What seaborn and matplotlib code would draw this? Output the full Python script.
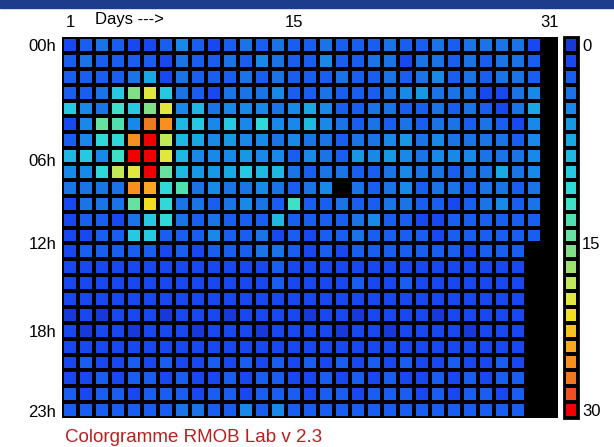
# import libraries
import numpy as np
import pandas as pd
import matplotlib
matplotlib.use('Agg')
import matplotlib.pyplot as plt
import seaborn as sns
from matplotlib.colors import ListedColormap
from matplotlib.patches import Rectangle

nan = np.nan

# days of the month and hours of the day
days = list(range(1, 32))
hours = ['%02dh' % h for h in range(24)]

# meteor counts per hour (rows) and day (columns), nan = no data
h00 = [2, 3, 4, 3, 2, 2, 3, 5, 3, 2, 3, 4, 3, 4, 3, 3, 4, 3, 3, 3, 4, 3, 3, 4, 3, 4, 4, 4, 4, 2, nan]
h01 = [3, 4, 3, 3, 3, 3, 2, 4, 3, 3, 4, 3, 6, 4, 3, 3, 5, 3, 3, 4, 4, 2, 4, 4, 3, 4, 3, 4, 4, 3, nan]
h02 = [3, 3, 3, 3, 4, 8, 2, 4, 3, 3, 3, 4, 3, 4, 3, 3, 3, 4, 3, 3, 4, 3, 4, 5, 3, 4, 3, 4, 4, 3, nan]
h03 = [3, 3, 4, 10, 17, 21, 11, 4, 3, 2, 4, 4, 4, 5, 3, 3, 4, 3, 3, 3, 4, 5, 7, 4, 4, 4, 2, 2, 4, 6, nan]
h04 = [10, 5, 4, 13, 10, 17, 21, 5, 9, 4, 5, 5, 5, 4, 6, 8, 5, 3, 3, 4, 4, 3, 3, 4, 3, 4, 3, 2, 4, 8, nan]
h05 = [2, 6, 15, 14, 5, 27, 25, 9, 10, 5, 11, 6, 12, 5, 6, 9, 5, 4, 3, 4, 3, 4, 3, 4, 4, 3, 4, 3, 2, 5, nan]
h06 = [3, 5, 12, 12, 25, 30, 19, 9, 8, 5, 7, 5, 5, 4, 5, 4, 4, 3, 4, 4, 5, 7, 4, 6, 4, 4, 4, 4, 3, 6, nan]
h07 = [9, 10, 5, 13, 30, 30, 21, 9, 6, 5, 5, 7, 5, 5, 3, 5, 4, 3, 7, 5, 7, 5, 4, 5, 5, 5, 4, 4, 4, 5, nan]
h08 = [5, 5, 12, 19, 21, 30, 16, 9, 7, 7, 8, 10, 9, 9, 4, 3, 4, 4, 3, 3, 4, 5, 4, 4, 3, 4, 4, 8, 4, 5, nan]
h09 = [4, 4, 4, 4, 25, 24, 12, 14, 4, 5, 4, 4, 5, 4, 3, 4, 5, nan, 4, 3, 4, 5, 3, 4, 4, 3, 4, 4, 3, 4, nan]
h10 = [2, 4, 4, 4, 15, 22, 12, 4, 4, 3, 4, 5, 4, 3, 13, 3, 3, 4, 3, 3, 4, 4, 3, 3, 2, 3, 4, 5, 3, 4, nan]
h11 = [2, 3, 3, 2, 4, 11, 12, 4, 3, 4, 3, 3, 3, 9, 3, 3, 3, 3, 4, 6, 3, 3, 2, 2, 3, 3, 3, 3, 3, 3, nan]
h12 = [2, 2, 3, 3, 10, 10, 3, 3, 3, 6, 3, 3, 4, 2, 3, 2, 3, 3, 4, 3, 3, 3, 3, 2, 3, 3, 3, 3, 3, 3, nan]
h13 = [2, 3, 3, 3, 3, 3, 2, 3, 2, 3, 3, 3, 4, 4, 3, 2, 3, 2, 3, 3, 3, 3, 3, 3, 3, 2, 3, 3, 3, nan, nan]
h14 = [2, 2, 2, 2, 2, 2, 2, 2, 2, 2, 2, 2, 2, 3, 2, 2, 2, 2, 2, 2, 2, 2, 2, 2, 2, 2, 2, 2, 2, nan, nan]
h15 = [2, 2, 2, 2, 2, 2, 2, 2, 2, 2, 2, 2, 2, 3, 2, 2, 2, 2, 3, 2, 2, 3, 2, 2, 2, 2, 2, 2, 2, nan, nan]
h16 = [2, 2, 2, 2, 2, 2, 2, 2, 2, 2, 2, 2, 2, 2, 2, 2, 2, 2, 2, 2, 2, 2, 2, 2, 2, 2, 2, 2, 2, nan, nan]
h17 = [1, 2, 1, 2, 2, 2, 1, 2, 2, 2, 1, 2, 2, 2, 2, 1, 2, 2, 1, 2, 2, 2, 2, 1, 2, 2, 2, 2, 2, nan, nan]
h18 = [2, 1, 2, 2, 1, 2, 2, 2, 1, 2, 2, 2, 1, 2, 2, 2, 2, 1, 2, 2, 1, 2, 2, 2, 2, 1, 2, 2, 2, nan, nan]
h19 = [2, 2, 2, 2, 2, 2, 2, 2, 2, 2, 2, 2, 2, 2, 2, 2, 2, 2, 2, 2, 2, 2, 2, 2, 2, 2, 2, 2, 2, nan, nan]
h20 = [2, 3, 2, 2, 3, 2, 3, 2, 2, 3, 2, 3, 2, 3, 2, 3, 2, 3, 2, 3, 2, 3, 2, 2, 3, 2, 2, 3, 2, nan, nan]
h21 = [2, 2, 3, 2, 3, 3, 2, 3, 2, 2, 3, 2, 3, 3, 2, 2, 3, 2, 3, 2, 3, 2, 2, 3, 2, 3, 2, 3, 3, nan, nan]
h22 = [3, 2, 3, 3, 2, 3, 3, 3, 2, 3, 3, 2, 3, 3, 3, 2, 3, 3, 2, 3, 3, 3, 2, 3, 2, 3, 3, 2, 3, nan, nan]
h23 = [3, 3, 3, 3, 3, 3, 3, 4, 4, 3, 3, 5, 3, 5, 3, 3, 3, 3, 3, 3, 3, 3, 3, 3, 3, 3, 3, 3, 3, nan, nan]

counts = [h00, h01, h02, h03, h04, h05, h06, h07, h08, h09, h10, h11,
          h12, h13, h14, h15, h16, h17, h18, h19, h20, h21, h22, h23]

# labels shown around the grid
hour_labels = ['00h', '06h', '12h', '18h', '23h']
day_labels = ['1', '15', '31']
scale_labels = ['0', '15', '30']

df = pd.DataFrame(counts, index=hours, columns=days)

# RMOB style colour scale, 24 steps from blue to red
cmap = ListedColormap([
    '#1838d8', '#1a48f0', '#1a5ef0', '#1a74e8', '#1a88e8', '#1898e4',
    '#18a8e4', '#20b8e0', '#28c8e0', '#30d8d8', '#40e0c8', '#50e0b0',
    '#68e0a0', '#80e088', '#a0e070', '#c0e858', '#e0e840', '#f0e020',
    '#f8c020', '#f8a820', '#f89020', '#f07820', '#f05020', '#f00000'])

plt.rcParams['font.family'] = ['Liberation Sans', 'DejaVu Sans']

fig = plt.figure(figsize=(6.14, 4.47), dpi=100)
fig.patch.set_facecolor('white')
fig.patches.append(Rectangle((0, 1 - 8 / 447), 1, 8 / 447, transform=fig.transFigure,
                             color='#1c3c8c', zorder=0))

ax = fig.add_axes([62 / 614, 1 - 418 / 447, 496 / 614, 381 / 447])
cax = fig.add_axes([564 / 614, 1 - 418 / 447, 14 / 614, 381 / 447])
ax.set_facecolor('black')

sns.heatmap(df, ax=ax, cbar_ax=cax, cmap=cmap, vmin=0, vmax=30,
            linewidths=2.6, linecolor='black',
            xticklabels=False, yticklabels=False)

# hour labels on the left
ax.set_yticks([0.5, 7.77, 13.0, 18.5, 23.56])
ax.set_yticklabels(hour_labels, rotation=0, fontsize=12)
ax.tick_params(axis='y', length=0, pad=4)

# day labels on top
ax.xaxis.tick_top()
ax.set_xticks([0.5, 14.5, 30.5])
ax.set_xticklabels(day_labels, fontsize=12)
ax.tick_params(axis='x', length=0, pad=5)
ax.text(2.05, 1.047, 'Days --->', transform=ax.get_xaxis_transform(),
        fontsize=12, ha='left', va='center')
ax.set_xlabel('')
ax.set_ylabel('')
for s in ax.spines.values():
    s.set_visible(False)

# colour scale on the right, 0 at the top, one black framed block per step
cbar = ax.collections[0].colorbar
cbar.ax.invert_yaxis()
cbar.set_ticks([0.625, 16.25, 29.375])
cbar.set_ticklabels(scale_labels)
cbar.ax.tick_params(length=0, labelsize=12, pad=3)
cbar.solids.set_edgecolor('black')
cbar.solids.set_linewidth(2.6)
cbar.outline.set_edgecolor('black')
cbar.outline.set_linewidth(2)

fig.text(65 / 614, 1 - 437 / 447, 'Colorgramme RMOB Lab v 2.3',
         color='#b82020', fontsize=13.5, ha='left', va='center')

plt.savefig('out.png', dpi=100)
